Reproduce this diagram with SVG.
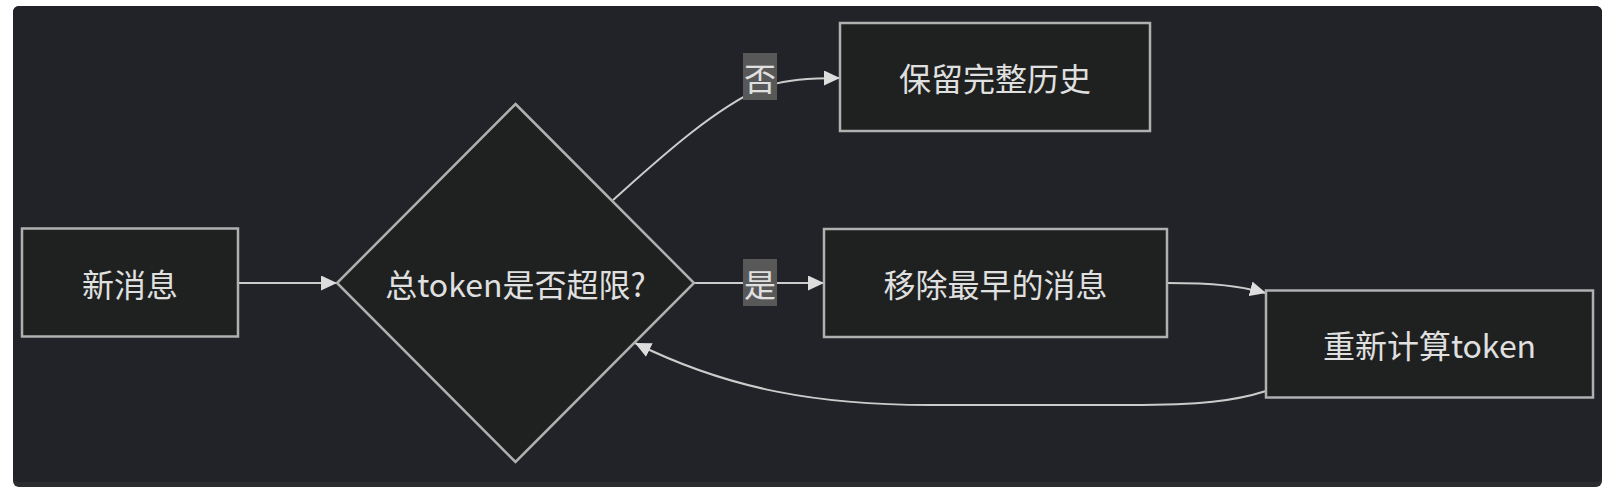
<svg xmlns="http://www.w3.org/2000/svg" width="1612" height="496" viewBox="0 0 1612 496">
  <style>
    .node { fill: #1f2020; stroke: #b0b0b0; stroke-width: 2.5; }
    .label { font-family: "Noto Sans CJK SC", "Noto Sans", sans-serif; font-size: 32px; fill: #e0e0e0; text-anchor: middle; dominant-baseline: central; }
    .edge { fill: none; stroke: #cccccc; stroke-width: 2; }
    .elbg { fill: #585858; }
  </style>
  <defs>
    <marker id="arrow" viewBox="0 0 16 15" refX="16" refY="7.5" markerUnits="userSpaceOnUse" markerWidth="16" markerHeight="15" orient="auto">
      <path d="M0,0 L16,7.5 L0,15 z" fill="#dddddd"/>
    </marker>
  </defs>
  <rect x="0" y="0" width="1612" height="496" fill="#ffffff"/>
  <rect x="13" y="6" width="1589" height="481" rx="6" fill="#2a2c30"/>
  <rect x="13" y="6" width="1589" height="476" rx="6" fill="#212328"/>

  <g id="connectors">
    <path class="edge" d="M238,283 L337,283" marker-end="url(#arrow)"/>
    <path class="edge" d="M613,200 C660,158 712,110 765,86 C790,80 805,78 840,78" marker-end="url(#arrow)"/>
    <path class="edge" d="M694,283 L824,283" marker-end="url(#arrow)"/>
    <path class="edge" d="M1167,283 C1215,283 1240,286 1266,293" marker-end="url(#arrow)"/>
    <path class="edge" d="M1266,391 C1235,401 1200,405 1130,405 L930,405 C820,405 730,390 635,343" marker-end="url(#arrow)"/>
    <g id="label-no">
      <rect class="elbg" x="743" y="53" width="34" height="47"/>
      <text class="label" x="760" y="77">否</text>
    </g>
    <g id="label-yes">
      <rect class="elbg" x="743" y="259" width="34" height="47"/>
      <text class="label" x="760" y="283">是</text>
    </g>
  </g>

  <g id="node-A">
    <rect class="node" x="22" y="228.5" width="216" height="108"/>
    <text class="label" x="130" y="282.5">新消息</text>
  </g>
  <g id="node-B">
    <polygon class="node" points="515.5,104 694,283 515.5,462 337,283"/>
    <text class="label" x="515.5" y="283">总token是否超限?</text>
  </g>
  <g id="node-C">
    <rect class="node" x="840" y="23" width="310" height="108"/>
    <text class="label" x="995" y="77">保留完整历史</text>
  </g>
  <g id="node-D">
    <rect class="node" x="824" y="229" width="343" height="108"/>
    <text class="label" x="995.5" y="283">移除最早的消息</text>
  </g>
  <g id="node-E">
    <rect class="node" x="1266" y="290.5" width="327" height="107"/>
    <text class="label" x="1429.5" y="344">重新计算token</text>
  </g>
</svg>
